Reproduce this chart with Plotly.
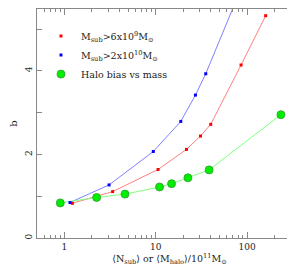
import plotly.graph_objects as go
import numpy as np

# Red: M_sub > 6x10^9
red_x = [1.22, 3.37, 10.6, 21.7, 30.9, 40.0, 86.0, 160.0]
red_y = [0.83, 1.11, 1.64, 2.12, 2.44, 2.72, 4.14, 5.32]
# Blue: M_sub > 2x10^10
blue_x = [1.15, 3.08, 9.4, 18.8, 27.2, 35.3, 87.0]
blue_y = [0.85, 1.27, 2.07, 2.79, 3.42, 3.93, 6.0]
# Green: halo bias vs mass
green_x = [0.90, 2.25, 4.6, 11.0, 14.9, 22.5, 38.4, 235.0]
green_y = [0.84, 0.97, 1.05, 1.22, 1.30, 1.44, 1.63, 2.95]

y_tickvals = [0, 1, 2, 3, 4, 5]
y_ticktext = ["0", "", "2", "", "4", ""]
x_tickvals = [1, 10, 100]
x_ticktext = ["1", "10", "100"]

FONT = "DejaVu Serif, Liberation Serif, serif"
TXT = "#222222"
AX = "#888888"

fig = go.Figure()
fig.add_trace(go.Scatter(x=red_x, y=red_y, mode="lines", line=dict(color="#ff7f7f", width=1), showlegend=False, hoverinfo="skip"))
fig.add_trace(go.Scatter(x=blue_x, y=blue_y, mode="lines", line=dict(color="#7f7fff", width=1), showlegend=False, hoverinfo="skip"))
fig.add_trace(go.Scatter(x=green_x, y=green_y, mode="lines", line=dict(color="#80ff80", width=1), showlegend=False, hoverinfo="skip"))

fig.add_trace(go.Scatter(x=red_x, y=red_y, mode="markers",
                         marker=dict(color="#ff0000", size=3, symbol="square"),
                         name="M<sub>sub</sub>>6x10<sup>9</sup>M<sub>⊙</sub>"))
fig.add_trace(go.Scatter(x=blue_x, y=blue_y, mode="markers",
                         marker=dict(color="#0000ff", size=3, symbol="square"),
                         name="M<sub>sub</sub>>2x10<sup>10</sup>M<sub>⊙</sub>"))
fig.add_trace(go.Scatter(x=green_x, y=green_y, mode="markers",
                         marker=dict(color="#00ee00", size=8, line=dict(color="#339933", width=0.8)),
                         name="Halo bias vs mass"))

axis_common = dict(showline=True, linecolor=AX, linewidth=1, mirror="ticks",
                   ticks="inside", tickcolor=AX, showgrid=False, zeroline=False,
                   tickfont=dict(family=FONT, size=9, color=TXT))

fig.update_xaxes(type="log", range=[np.log10(0.5), np.log10(400)],
                 tickvals=x_tickvals, ticktext=x_ticktext, ticklen=6,
                 minor=dict(ticks="inside", ticklen=3, tickcolor=AX, dtick="D1"),
                 title=dict(text="⟨N<sub>sub</sub>⟩ or ⟨M<sub>halo</sub>⟩/10<sup>11</sup>M<sub>⊙</sub>",
                            font=dict(family=FONT, size=9.5, color=TXT), standoff=2),
                 **axis_common)
fig.update_yaxes(range=[0, 5.48], tickvals=y_tickvals, ticktext=y_ticktext, ticklen=5,
                 tickangle=-90,
                 title=dict(text="b", font=dict(family=FONT, size=10, color=TXT), standoff=6),
                 **axis_common)

fig.update_layout(width=295, height=267, margin=dict(l=29, r=1, t=1, b=37),
                  paper_bgcolor="white", plot_bgcolor="white",
                  legend=dict(x=0.015, y=0.945, xanchor="left", yanchor="top",
                              bgcolor="rgba(0,0,0,0)", tracegroupgap=0,
                              font=dict(family=FONT, size=9.5, color=TXT),
                              itemwidth=30))

fig.write_html("out.html")
